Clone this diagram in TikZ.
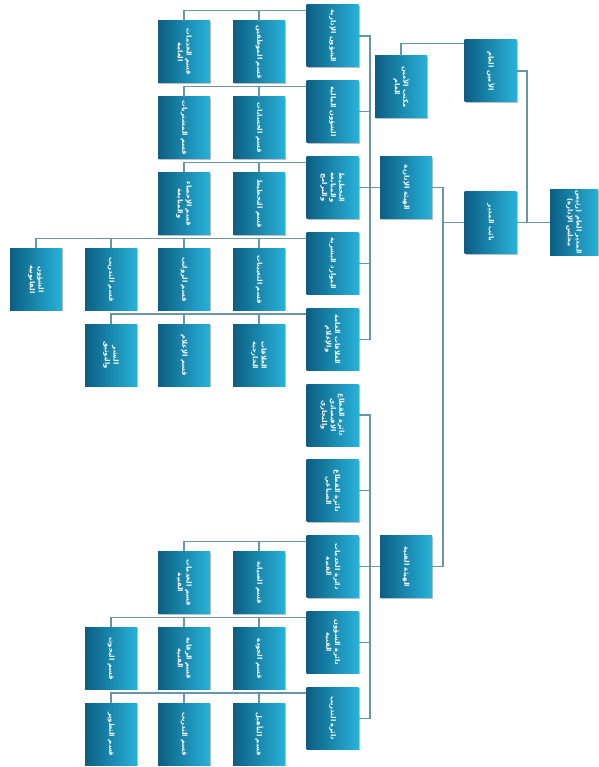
\documentclass[tikz,border=0pt]{standalone}
\usepackage{fontspec}
\usepackage{graphicx}
\usetikzlibrary{shadows}
\TeXXeTstate=1
\newfontfamily\arabicfont[Script=Arabic]{DejaVu Sans}
\newcommand{\arl}[1]{\beginR #1\endR}
\newcommand{\boxtext}[1]{\rotatebox{-90}{\begin{tabular}{@{}c@{}}#1\end{tabular}}}
\definecolor{boxdark}{RGB}{12,94,130}
\definecolor{boxlight}{RGB}{40,178,218}
\definecolor{wire}{RGB}{104,150,164}
\tikzset{
  orgbox/.style={draw=none, minimum width=52pt, minimum height=62pt, inner sep=1pt,
    left color=boxdark, right color=boxlight, text=white,
    font=\arabicfont\bfseries\fontsize{6.8}{8.6}\selectfont,
    drop shadow={shadow xshift=1pt, shadow yshift=-1pt, fill=black, opacity=0.25}},
  wirestyle/.style={draw=wire, line width=1.3pt}
}
\begin{document}
\begin{tikzpicture}[x=1pt,y=-1pt]
\useasboundingbox (0,0) rectangle (598,767);
% root and level 2
\node[orgbox, minimum width=48pt] (root) at (574,222.5) {\boxtext{\arl{المدير العام (رئيس}\\\arl{مجلس الإدارة)}}};
\node[orgbox] (s1) at (490.5,71) {\boxtext{\arl{الأمين العام}}};
\node[orgbox] (s2) at (490.5,222.5) {\boxtext{\arl{نائب المدير}}};
% level 3
\node[orgbox] (t1) at (401,87) {\boxtext{\arl{مكتب الأمين}\\\arl{العام}}};
\node[orgbox] (t2) at (406,187.6) {\boxtext{\arl{الهيئة الإدارية}}};
\node[orgbox] (t3) at (406,566.6) {\boxtext{\arl{الهيئة الفنية}}};
% level 4
\node[orgbox] (d1) at (332.5,36) {\boxtext{\arl{الشؤون الإدارية}}};
\node[orgbox] (d2) at (332.5,111.8) {\boxtext{\arl{الشؤون المالية}}};
\node[orgbox] (d3) at (332.5,187.6) {\boxtext{\arl{التخطيط}\\\arl{والمتابعة}\\\arl{والبرامج}}};
\node[orgbox] (d4) at (332.5,263.4) {\boxtext{\arl{الموارد البشرية}}};
\node[orgbox] (d5) at (332.5,339.2) {\boxtext{\arl{العلاقات العامة}\\\arl{والإعلام}}};
\node[orgbox] (d6) at (332.5,415) {\boxtext{\arl{دائرة القطاع}\\\arl{الاقتصادي}\\\arl{والتجاري}}};
\node[orgbox] (d7) at (332.5,490.8) {\boxtext{\arl{دائرة القطاع}\\\arl{الصناعي}}};
\node[orgbox] (d8) at (332.5,566.6) {\boxtext{\arl{دائرة الخدمات}\\\arl{الفنية}}};
\node[orgbox] (d9) at (332.5,642.4) {\boxtext{\arl{دائرة الشؤون}\\\arl{الفنية}}};
\node[orgbox] (d10) at (332.5,718.2) {\boxtext{\arl{دائرة التدريب}}};
% level 5
\node[orgbox] (d1a) at (259,52) {\boxtext{\arl{قسم الموظفين}}};
\node[orgbox] (d1b) at (184,52) {\boxtext{\arl{قسم الخدمات}\\\arl{العامة}}};
\node[orgbox] (d2a) at (259,127.8) {\boxtext{\arl{قسم الحسابات}}};
\node[orgbox] (d2b) at (184,127.8) {\boxtext{\arl{قسم المشتريات}}};
\node[orgbox] (d3a) at (259,203.6) {\boxtext{\arl{قسم التخطيط}}};
\node[orgbox] (d3b) at (184,203.6) {\boxtext{\arl{قسم الإحصاء}\\\arl{والمتابعة}}};
\node[orgbox] (d4a) at (259,279.4) {\boxtext{\arl{قسم التعيينات}}};
\node[orgbox] (d4b) at (184,279.4) {\boxtext{\arl{قسم الرواتب}}};
\node[orgbox] (d4c) at (111,279.4) {\boxtext{\arl{قسم التدريب}}};
\node[orgbox] (d4d) at (36,279.4) {\boxtext{\arl{الشؤون}\\\arl{القانونية}}};
\node[orgbox] (d5a) at (259,355.2) {\boxtext{\arl{العلاقات}\\\arl{الخارجية}}};
\node[orgbox] (d5b) at (184,355.2) {\boxtext{\arl{قسم الإعلام}}};
\node[orgbox] (d5c) at (111,355.2) {\boxtext{\arl{النشر}\\\arl{والتوثيق}}};
\node[orgbox] (d8a) at (259,582.6) {\boxtext{\arl{قسم الصيانة}}};
\node[orgbox] (d8b) at (184,582.6) {\boxtext{\arl{قسم الخدمات}\\\arl{الفنية}}};
\node[orgbox] (d9a) at (259,658.4) {\boxtext{\arl{قسم الجودة}}};
\node[orgbox] (d9b) at (184,658.4) {\boxtext{\arl{قسم الرقابة}\\\arl{الفنية}}};
\node[orgbox] (d9c) at (111,658.4) {\boxtext{\arl{قسم البحوث}}};
\node[orgbox] (d10a) at (259,734.2) {\boxtext{\arl{قسم التأهيل}}};
\node[orgbox] (d10b) at (184,734.2) {\boxtext{\arl{قسم التدريب}}};
\node[orgbox] (d10c) at (111,734.2) {\boxtext{\arl{قسم التطوير}}};
% junctions
\coordinate (j1) at (527,222.5);
\coordinate (j2) at (443,222.5);
\coordinate (b1) at (370,187.6);
\coordinate (b2) at (370,566.6);
% connectors
\draw[wirestyle] (root.west) -- (s2.east);
\draw[wirestyle] (j1) |- (s1.east);
\draw[wirestyle] ([yshift=-4pt]s1.north west) -| (t1.north);
\draw[wirestyle] (s2.west) -- (j2);
\draw[wirestyle] (t2.east) -| (j2);
\draw[wirestyle] (t3.east) -| (j2);
\draw[wirestyle] (t2.west) -- (d3.east);
\foreach \n in {d1,d2,d4,d5} {\draw[wirestyle] (\n.east) -| (b1);}
\draw[wirestyle] (t3.west) -- (d8.east);
\foreach \n in {d6,d7,d9,d10} {\draw[wirestyle] (\n.east) -| (b2);}
\foreach \p/\c in {d1/d1a,d1/d1b,d2/d2a,d2/d2b,d3/d3a,d3/d3b,d4/d4a,d4/d4b,d4/d4c,d4/d4d,d5/d5a,d5/d5b,d5/d5c,d8/d8a,d8/d8b,d9/d9a,d9/d9b,d9/d9c,d10/d10a,d10/d10b,d10/d10c}
  {\draw[wirestyle] ([yshift=-6pt]\p.north west) -| (\c.north);}
\end{tikzpicture}
\end{document}
